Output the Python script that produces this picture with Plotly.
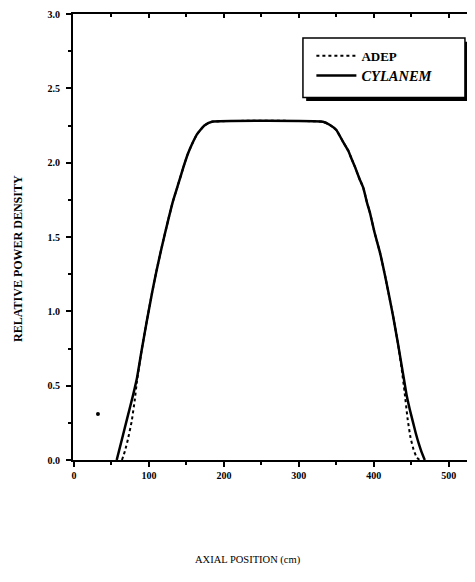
import plotly.graph_objects as go

# CYLANEM (solid) - axial position (cm) vs relative power density
cyl_pos = [57, 64, 71, 79, 84, 90, 97, 104, 110, 117, 126, 132, 140, 146, 152, 158, 164, 174, 184,
           332, 341, 350, 359, 366, 370, 375, 381, 386, 391, 395, 401, 408, 415, 421, 426, 432,
           437, 441, 444, 448, 452, 456, 460, 464, 468]
cyl_val = [0.0, 0.14, 0.28, 0.44, 0.55, 0.73, 0.93, 1.12, 1.27, 1.43, 1.62, 1.74, 1.87, 1.97, 2.06,
           2.13, 2.19, 2.25, 2.275,
           2.275, 2.255, 2.22, 2.14, 2.08, 2.03, 1.97, 1.89, 1.83, 1.73, 1.66, 1.53, 1.40, 1.24,
           1.09, 0.96, 0.79, 0.64, 0.52, 0.43, 0.34, 0.26, 0.18, 0.11, 0.05, 0.0]

# ADEP (dotted)
adep_pos = [64, 68, 72, 77, 81, 84, 90, 97, 104, 110, 117, 126, 132, 140, 146, 152, 158, 164, 174, 184,
            332, 341, 350, 359, 366, 370, 375, 381, 386, 391, 395, 401, 408, 415, 421, 426, 432,
            437, 441, 445, 449, 453, 457, 461]
adep_val = [0.0, 0.06, 0.14, 0.26, 0.4, 0.53, 0.73, 0.93, 1.12, 1.27, 1.43, 1.62, 1.74, 1.87, 1.97,
            2.06, 2.13, 2.19, 2.25, 2.275,
            2.275, 2.255, 2.22, 2.14, 2.08, 2.03, 1.97, 1.89, 1.83, 1.73, 1.66, 1.53, 1.40, 1.24,
            1.09, 0.96, 0.79, 0.62, 0.46, 0.28, 0.15, 0.07, 0.02, 0.0]

# stray speck in the scanned figure
speck_pos = [32]
speck_val = [0.31]

x_ticks = [0, 100, 200, 300, 400, 500]
x_labels = ["0", "100", "200", "300", "400", "500"]
y_ticks = [0.0, 0.5, 1.0, 1.5, 2.0, 2.5, 3.0]
y_labels = ["0.0", "0.5", "1.0", "1.5", "2.0", "2.5", "3.0"]

SERIF = "Liberation Serif, Times New Roman, serif"

fig = go.Figure()
fig.add_trace(go.Scatter(x=adep_pos, y=adep_val, mode="lines", name="<b>ADEP</b>",
                         line=dict(color="black", width=2, dash="dot", shape="spline", smoothing=0.4)))
fig.add_trace(go.Scatter(x=cyl_pos, y=cyl_val, mode="lines",
                         name="<b><i><span style='font-size:14.5px'>CYLANEM</span></i></b>",
                         line=dict(color="black", width=2.5, shape="spline", smoothing=0.4)))
fig.add_trace(go.Scatter(x=speck_pos, y=speck_val, mode="markers", showlegend=False,
                         marker=dict(color="black", size=4, symbol="circle")))
# invisible trace for the top mirrored axis
fig.add_trace(go.Scatter(x=[0], y=[0], xaxis="x2", mode="markers", showlegend=False,
                         marker=dict(opacity=0), hoverinfo="skip"))

tickfont = dict(family=SERIF, size=10, color="black", weight="bold")

fig.update_layout(
    width=467, height=574,
    margin=dict(l=65, r=0, t=6, b=122),
    paper_bgcolor="white", plot_bgcolor="white",
    font=dict(family=SERIF, color="black"),
    showlegend=True,
    legend=dict(x=0.593, y=0.94, xanchor="left", yanchor="top",
                bgcolor="rgba(0,0,0,0)", borderwidth=0,
                font=dict(family=SERIF, size=13, color="black"),
                tracegroupgap=0, itemwidth=40),
    xaxis=dict(range=[-1.3, 535], tickvals=x_ticks, ticktext=x_labels,
               ticks="outside", ticklen=5, tickwidth=1.5, tickcolor="black",
               showline=True, linecolor="black", linewidth=2,
               showgrid=False, zeroline=False, tickfont=tickfont,
               minor=dict(dtick=50, tick0=0, ticks="outside", ticklen=3, tickwidth=1.5,
                          tickcolor="black", showgrid=False)),
    xaxis2=dict(range=[-1.3, 535], overlaying="x", side="top", anchor="y",
                tickvals=x_ticks, showticklabels=False,
                ticks="inside", ticklen=4, tickwidth=1.5, tickcolor="black",
                showline=True, linecolor="black", linewidth=2,
                showgrid=False, zeroline=False,
                minor=dict(dtick=50, tick0=0, ticks="inside", ticklen=3, tickwidth=1.5,
                           tickcolor="black", showgrid=False)),
    yaxis=dict(range=[0, 3.0], tickvals=y_ticks, ticktext=y_labels,
               ticks="outside", ticklen=5, tickwidth=1.5, tickcolor="black",
               showline=True, linecolor="black", linewidth=2,
               showgrid=False, zeroline=False, ticklabelstandoff=4, tickfont=tickfont,
               minor=dict(dtick=0.25, tick0=0, ticks="outside", ticklen=3, tickwidth=1.5,
                          tickcolor="black", showgrid=False)),
    annotations=[
        dict(text="AXIAL POSITION (cm)", xref="paper", yref="paper",
             x=0.435, y=-0.225, xanchor="center", yanchor="middle", showarrow=False,
             font=dict(family=SERIF, size=10.5, color="black")),
        dict(text="<b>RELATIVE POWER DENSITY</b>", xref="paper", yref="paper",
             x=-0.137, y=0.453, xanchor="center", yanchor="middle", showarrow=False,
             textangle=-90, font=dict(family=SERIF, size=12, color="black")),
    ],
    shapes=[
        # legend shadow
        dict(type="rect", xref="paper", yref="paper",
             x0=0.580, x1=0.983, y0=0.805, y1=0.938,
             line=dict(width=0), fillcolor="black", layer="above"),
        # legend box
        dict(type="rect", xref="paper", yref="paper",
             x0=0.572, x1=0.975, y0=0.813, y1=0.946,
             line=dict(color="black", width=1.5), fillcolor="white", layer="above"),
    ],
)

fig.write_html("out.html")
